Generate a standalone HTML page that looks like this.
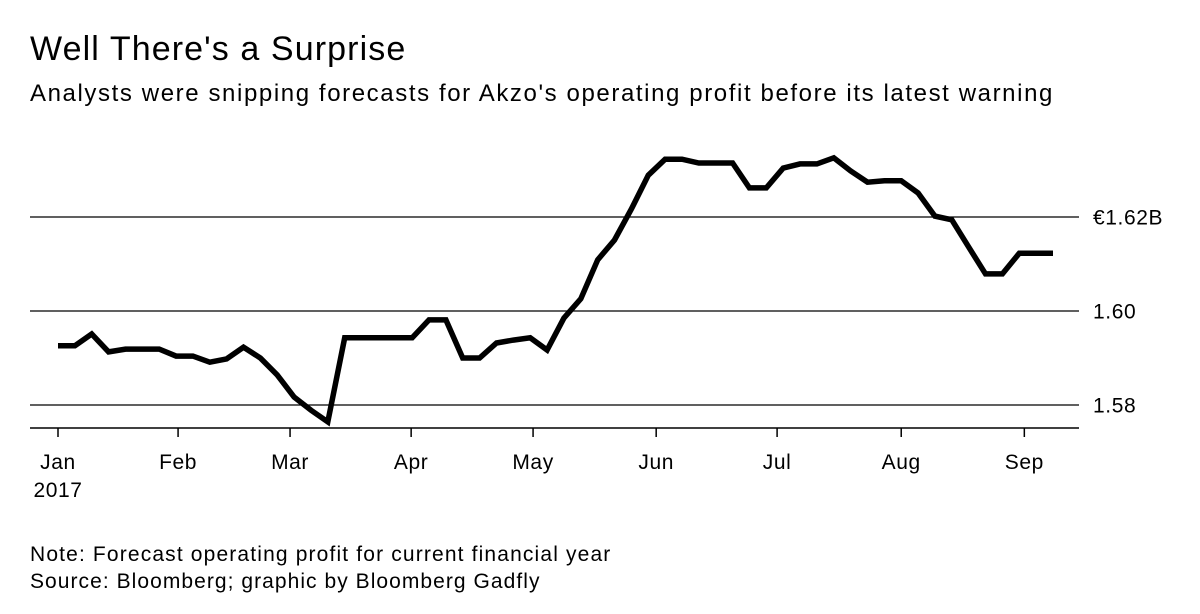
<!DOCTYPE html>
<html><head><meta charset="utf-8"><style>
body{margin:0;background:#fff;}
svg{display:block;font-family:"Liberation Sans",Arial,sans-serif;}
</style></head><body>
<svg id="chart" width="1200" height="614" viewBox="0 0 1200 614">
<text x="30" y="60" font-size="34" letter-spacing="1.1" fill="#000">Well There's a Surprise</text>
<text x="30" y="101" font-size="24" letter-spacing="1.6" fill="#000">Analysts were snipping forecasts for Akzo's operating profit before its latest warning</text>
<g id="grid"></g>
<g id="xaxis"></g>
<path id="line" fill="none" stroke="#000" stroke-width="5.5" stroke-linejoin="miter"></path>
<text x="30" y="561" font-size="21" letter-spacing="1.15">Note: Forecast operating profit for current financial year</text>
<text x="30" y="588" font-size="21" letter-spacing="1.05">Source: Bloomberg; graphic by Bloomberg Gadfly</text>
</svg>
<script>
const values=[1.5926,1.5926,1.5951,1.5913,1.5919,1.5919,1.5919,1.5904,1.5904,1.5891,1.5898,1.5923,1.5900,1.5864,1.5817,1.5789,1.5764,1.5943,1.5943,1.5943,1.5943,1.5943,1.5981,1.5981,1.5900,1.5900,1.5932,1.5938,1.5943,1.5917,1.5985,1.6026,1.6109,1.6151,1.6217,1.6289,1.6323,1.6323,1.6315,1.6315,1.6315,1.6262,1.6262,1.6304,1.6313,1.6313,1.6326,1.6298,1.6274,1.6277,1.6277,1.6251,1.6202,1.6194,1.6136,1.6079,1.6079,1.6123,1.6123,1.6123];
const yTicks=[1.58,1.60,1.62];
const yTickLabels=["1.58","1.60","€1.62B"];
const monthLabels=["Jan","Feb","Mar","Apr","May","Jun","Jul","Aug","Sep"];
const monthPos=[0,7.12,13.76,20.94,28.17,35.47,42.64,50.0,57.3];
const ns="http://www.w3.org/2000/svg";
const x=i=>58+i*(995/59);
const y=v=>217-(v-1.62)*4700;
const grid=document.getElementById('grid');
yTicks.forEach((t,k)=>{
  const l=document.createElementNS(ns,'line');
  
  
  l.setAttribute('x1',30);l.setAttribute('x2',1079);
  l.setAttribute('y1',y(t));l.setAttribute('y2',y(t));
  l.setAttribute('stroke','#000');l.setAttribute('stroke-width','1.2');
  grid.appendChild(l);
  const tx=document.createElementNS(ns,'text');
  
  
  tx.setAttribute('x',1093);tx.setAttribute('y',y(t)+7.5);
  tx.setAttribute('font-size','21');
  tx.setAttribute('letter-spacing','0.6');
  tx.textContent=yTickLabels[k];
  grid.appendChild(tx);
});
const xa=document.getElementById('xaxis');
const ax=document.createElementNS(ns,'line');


ax.setAttribute('x1',30);ax.setAttribute('x2',1079);ax.setAttribute('y1',428);ax.setAttribute('y2',428);
ax.setAttribute('stroke','#000');ax.setAttribute('stroke-width','1.5');
xa.appendChild(ax);
monthLabels.forEach((m,k)=>{
  const px=x(monthPos[k]);
  const t=document.createElementNS(ns,'line');
  
  
  t.setAttribute('x1',px);t.setAttribute('x2',px);t.setAttribute('y1',428);t.setAttribute('y2',437);
  t.setAttribute('stroke','#000');t.setAttribute('stroke-width','1.5');
  xa.appendChild(t);
  const tx=document.createElementNS(ns,'text');
  
  
  tx.setAttribute('x',px);tx.setAttribute('y',469);
  tx.setAttribute('text-anchor','middle');tx.setAttribute('font-size','21');
  tx.setAttribute('letter-spacing','0.6');
  tx.textContent=m;
  xa.appendChild(tx);
});
const yr=document.createElementNS(ns,'text');


yr.setAttribute('x',x(monthPos[0]));yr.setAttribute('y',497);
yr.setAttribute('text-anchor','middle');yr.setAttribute('font-size','21');
yr.setAttribute('letter-spacing','0.6');
yr.textContent='2017';
xa.appendChild(yr);
document.getElementById('line').setAttribute('d',values.map((v,i)=>(i?'L':'M')+x(i).toFixed(1)+','+y(v).toFixed(1)).join(''));
</script>
</body></html>
